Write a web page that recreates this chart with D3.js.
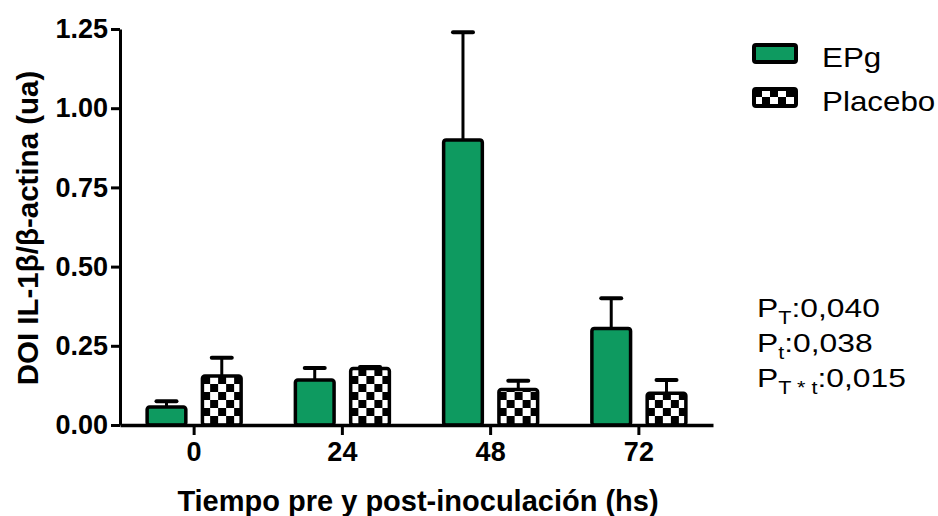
<!DOCTYPE html>
<html>
<head>
<meta charset="utf-8">
<script src="https://cdn.jsdelivr.net/npm/d3@7"></script>
<style>
  html, body { margin: 0; padding: 0; background: #fff; }
  svg { display: block; font-family: Arial, "Liberation Sans", Helvetica, sans-serif; }
</style>
</head>
<body>
<svg id="chart" width="938" height="516"></svg>
<script>
// Time points (hours) and groups
const timepoints = ["0", "24", "48", "72"];
const groups = ["EPg", "Placebo"];
// Mean DOI IL-1β/β-actina per group
const epgMeans = [0.057, 0.142, 0.900, 0.305];
const placeboMeans = [0.155, 0.178, 0.112, 0.100];
// Upper end of each error bar (mean + SEM)
const epgUpper = [0.075, 0.180, 1.240, 0.400];
const placeboUpper = [0.212, 0.183, 0.140, 0.142];
const yTicks = [0, 0.25, 0.5, 0.75, 1.0, 1.25];
const pValues = [
  { sub: "T", value: ":0,040" },
  { sub: "t", value: ":0,038" },
  { sub: "T * t", value: ":0,015" }
];

const green = "#0e9a60";
const svg = d3.select("#chart");

const x0 = d3.scaleBand().domain(timepoints).range([120, 713]).padding(0);
const x1 = d3.scaleBand().domain(groups).range([-47, 47]).paddingInner(0.3);
const y = d3.scaleLinear().domain([0, 1.25]).range([425, 29]);

// checkerboard fill for Placebo
const cell = 8;
const defs = svg.append("defs");
const pat = defs.append("pattern")
  .attr("id", "checker")
  .attr("patternUnits", "userSpaceOnUse")
  .attr("width", cell * 2).attr("height", cell * 2);
pat.append("rect").attr("width", cell * 2).attr("height", cell * 2).attr("fill", "#fff");
pat.append("rect").attr("width", cell).attr("height", cell).attr("fill", "#000");
pat.append("rect").attr("x", cell).attr("y", cell).attr("width", cell).attr("height", cell).attr("fill", "#000");

const rows = timepoints.map((t, i) => ({
  t,
  bars: [
    { g: "EPg", v: epgMeans[i], hi: epgUpper[i] },
    { g: "Placebo", v: placeboMeans[i], hi: placeboUpper[i] }
  ]
}));

const fillFor = g => g === "EPg" ? green : "url(#checker)";

const groupSel = svg.append("g").selectAll("g")
  .data(rows).join("g")
  .attr("transform", d => `translate(${x0(d.t) + x0.bandwidth() / 2},0)`);

// error bars (upper only)
const err = groupSel.selectAll("g.err").data(d => d.bars).join("g").attr("class", "err");
err.append("line")
  .attr("x1", d => x1(d.g) + x1.bandwidth() / 2)
  .attr("x2", d => x1(d.g) + x1.bandwidth() / 2)
  .attr("y1", d => y(d.v))
  .attr("y2", d => y(d.hi))
  .attr("stroke", "#000").attr("stroke-width", 3);
err.append("line")
  .attr("x1", d => x1(d.g) + x1.bandwidth() / 2 - 10)
  .attr("x2", d => x1(d.g) + x1.bandwidth() / 2 + 10)
  .attr("y1", d => y(d.hi))
  .attr("y2", d => y(d.hi))
  .attr("stroke", "#000").attr("stroke-width", 4).attr("stroke-linecap", "round");

// bars
groupSel.selectAll("rect.bar").data(d => d.bars).join("rect")
  .attr("class", "bar")
  .attr("x", d => x1(d.g))
  .attr("width", x1.bandwidth())
  .attr("y", d => y(d.v))
  .attr("height", d => y(0) - y(d.v))
  .attr("rx", 2.5)
  .attr("fill", d => fillFor(d.g))
  .attr("stroke", "#000").attr("stroke-width", 3.5);

// y axis
const yAxis = svg.append("g")
  .attr("transform", "translate(120,0)")
  .call(d3.axisLeft(y).tickValues(yTicks).tickFormat(d3.format(".2f")).tickSize(9).tickSizeOuter(0));
yAxis.select(".domain").attr("stroke-width", 3);
yAxis.selectAll(".tick line").attr("stroke-width", 3);
yAxis.selectAll(".tick text")
  .attr("x", -12)
  .attr("font-size", 27).attr("font-weight", "bold").attr("fill", "#000")
  .attr("font-family", "Arial, 'Liberation Sans', sans-serif");

// x axis
const xAxis = svg.append("g")
  .attr("transform", "translate(0,425)")
  .call(d3.axisBottom(x0).tickSize(10).tickSizeOuter(0));
xAxis.select(".domain").attr("stroke-width", 3.5);
xAxis.selectAll(".tick line").attr("stroke-width", 3);
xAxis.selectAll(".tick text")
  .attr("y", 17)
  .attr("font-size", 27).attr("font-weight", "bold").attr("fill", "#000")
  .attr("font-family", "Arial, 'Liberation Sans', sans-serif");

// axis titles
svg.append("text")
  .attr("x", 418).attr("y", 511)
  .attr("text-anchor", "middle")
  .attr("font-size", 29).attr("font-weight", "bold")
  .text("Tiempo pre y post-inoculación (hs)");

svg.append("text")
  .attr("transform", "translate(38,228) rotate(-90)")
  .attr("text-anchor", "middle")
  .attr("font-size", 29.5).attr("font-weight", "bold")
  .text("DOI IL-1β/β-actina (ua)");

// legend
const legend = svg.append("g").selectAll("g").data(groups).join("g")
  .attr("transform", (d, i) => `translate(754,${45 + i * 44})`);
legend.append("rect")
  .attr("width", 42).attr("height", 17).attr("rx", 2)
  .attr("fill", d => fillFor(d))
  .attr("stroke", "#000").attr("stroke-width", 4);
legend.append("text")
  .attr("transform", "translate(68,22) scale(1.12,1)")
  .attr("font-size", 28)
  .text(d => d);

// p-value annotations
const pText = svg.append("g").selectAll("text").data(pValues).join("text")
  .attr("transform", (d, i) => `translate(757,${317 + i * 35}) scale(1.2,1)`)
  .attr("font-size", 26.5);
pText.append("tspan").text("P");
pText.append("tspan").attr("dy", 7).attr("font-size", 18).text(d => d.sub);
pText.append("tspan").attr("dy", -7).text(d => d.value);
</script>
</body>
</html>
